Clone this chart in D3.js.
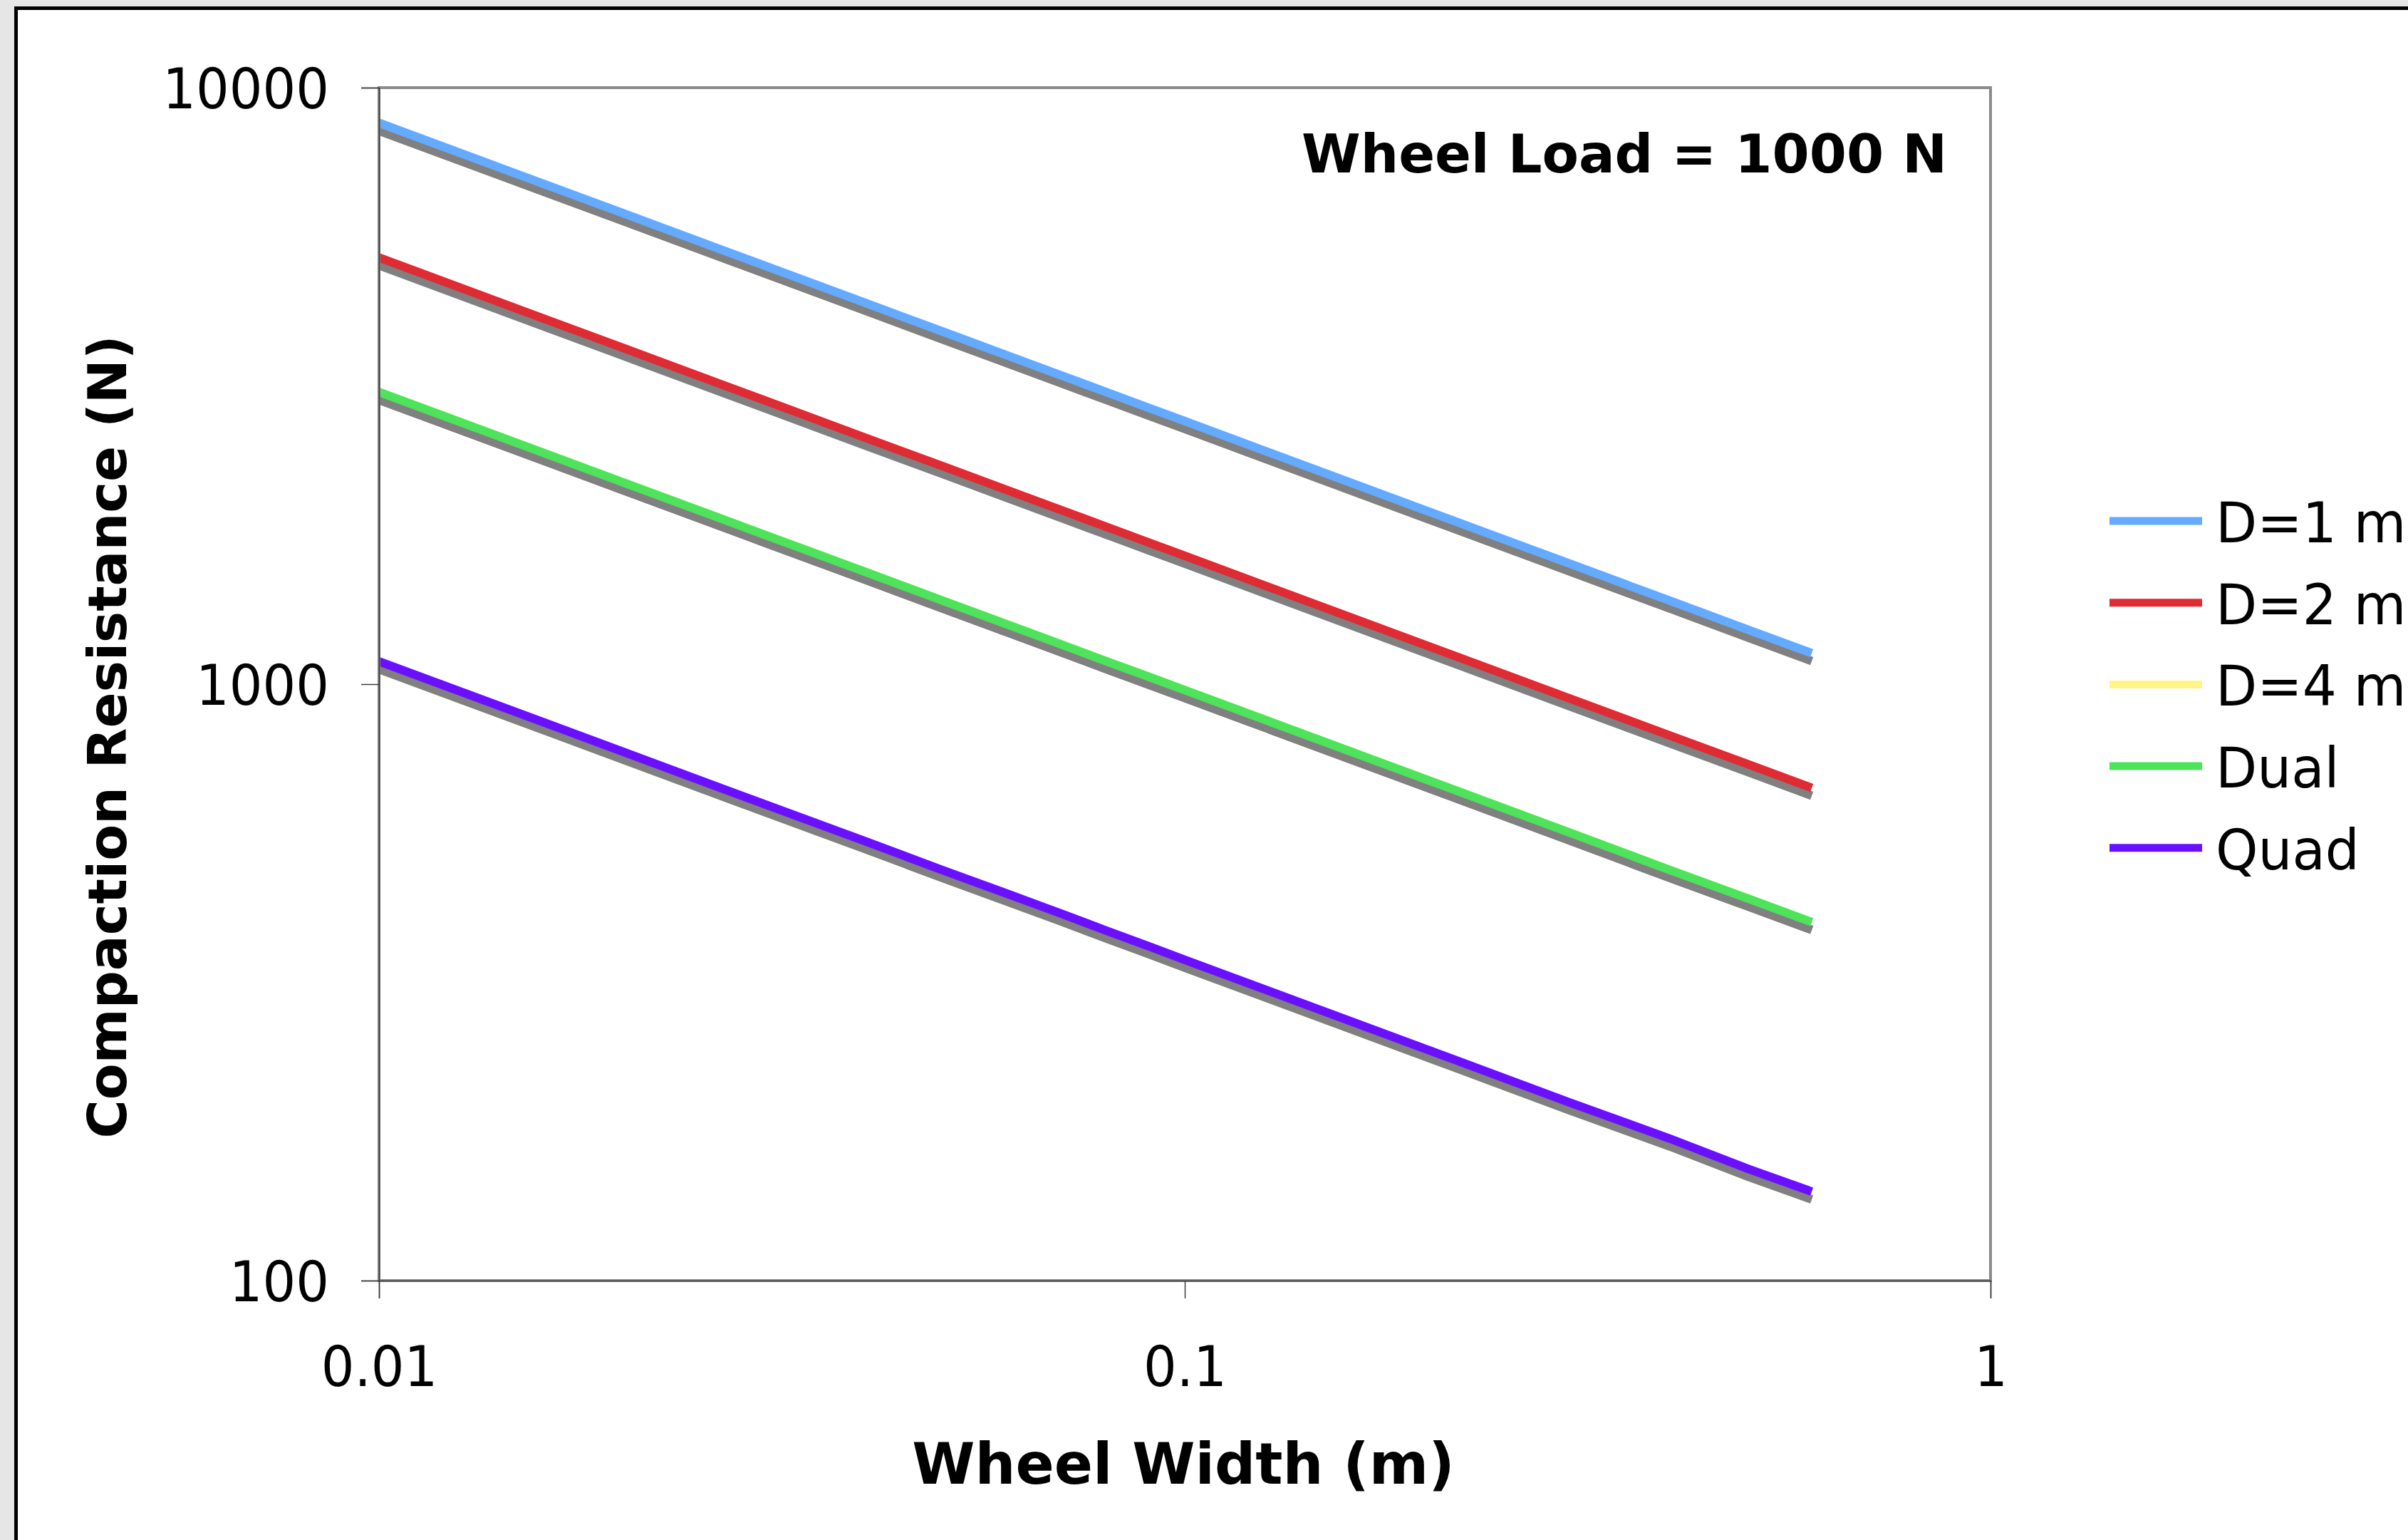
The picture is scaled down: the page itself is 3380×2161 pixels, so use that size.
<!DOCTYPE html>
<html>
<head>
<meta charset="utf-8">
<script src="https://cdn.jsdelivr.net/npm/d3@7"></script>
<style>
  html, body { margin: 0; padding: 0; background: #e6e6e6; }
  svg { display: block; }
</style>
</head>
<body>
<svg id="chart" width="3380" height="2161"></svg>
<script>
// Wheel widths (m) at which compaction resistance was computed
const widths = [0.01, 0.02, 0.03, 0.04, 0.05, 0.06, 0.07, 0.08, 0.09, 0.1, 0.2, 0.3, 0.4, 0.5, 0.6];

// Compaction resistance (N) for each wheel configuration
const resD1   = [8727, 6171, 5039, 4364, 3903, 3563, 3299, 3086, 2909, 2760, 1951, 1593, 1380, 1234, 1127];
const resD2   = [5189, 3669, 2996, 2594, 2321, 2118, 1961, 1835, 1730, 1641, 1160, 947, 820, 734, 670];
const resD4   = [3089, 2184, 1783, 1545, 1381, 1261, 1168, 1092, 1030, 977, 691, 564, 488, 437, 399];
const resDual = [3089, 2184, 1783, 1545, 1381, 1261, 1168, 1092, 1030, 977, 691, 564, 488, 437, 399];
const resQuad = [1092, 772, 630, 546, 488, 446, 413, 386, 364, 345, 244, 199, 173, 154, 141];

const seriesNames  = ["D=1 m", "D=2 m", "D=4 m", "Dual", "Quad"];
const seriesValues = [resD1, resD2, resD4, resDual, resQuad];
const seriesColors = ["#64aaff", "#df2b34", "#fff38a", "#4de35a", "#6a10ff"];

const xTickValues = [0.01, 0.1, 1];
const xTickLabels = ["0.01", "0.1", "1"];
const yTickValues = [100, 1000, 10000];
const yTickLabels = ["100", "1000", "10000"];

const annotation = "Wheel Load = 1000 N";
const xTitle = "Wheel Width (m)";
const yTitle = "Compaction Resistance (N)";

// ---- layout ----
const W = 3380, H = 2161;
const plot = { left: 532, right: 2794, top: 123, bottom: 1797 };
const FONT = "'DejaVu Sans', Verdana, sans-serif";

const svg = d3.select("#chart");

svg.append("rect").attr("width", W).attr("height", H).attr("fill", "#e6e6e6");
// chart frame
svg.append("rect")
  .attr("x", 22.5).attr("y", 11.5)
  .attr("width", W + 40).attr("height", H + 40)
  .attr("fill", "#ffffff").attr("stroke", "#000000").attr("stroke-width", 5);

const x = d3.scaleLog().domain([0.01, 1]).range([plot.left, plot.right]);
const y = d3.scaleLog().domain([100, 10000]).range([plot.bottom, plot.top]);

// plot area background
svg.append("rect")
  .attr("x", plot.left).attr("y", plot.top)
  .attr("width", plot.right - plot.left).attr("height", plot.bottom - plot.top)
  .attr("fill", "#ffffff");

svg.append("defs").append("clipPath").attr("id", "plotClip")
  .append("rect")
  .attr("x", plot.left).attr("y", plot.top)
  .attr("width", plot.right - plot.left).attr("height", plot.bottom - plot.top);

const line = d3.line().x(d => x(d[0])).y(d => y(d[1]));
const lines = svg.append("g").attr("clip-path", "url(#plotClip)");

seriesValues.forEach((vals, i) => {
  const pts = widths.map((w, j) => [w, vals[j]]);
  // drop shadow under each series
  lines.append("path")
    .attr("d", line(pts))
    .attr("transform", "translate(0,11)")
    .attr("fill", "none").attr("stroke", "#808080").attr("stroke-width", 12);
  lines.append("path")
    .attr("d", line(pts))
    .attr("fill", "none").attr("stroke", seriesColors[i]).attr("stroke-width", 12);
});

// plot area border
svg.append("rect")
  .attr("x", plot.left).attr("y", plot.top)
  .attr("width", plot.right - plot.left).attr("height", plot.bottom - plot.top)
  .attr("fill", "none").attr("stroke", "#8a8a8a").attr("stroke-width", 4);

// axes
const yAxis = d3.axisLeft(y)
  .tickValues(yTickValues)
  .tickFormat((d, i) => yTickLabels[i])
  .tickSize(25).tickPadding(45);
const gy = svg.append("g").attr("transform", `translate(${plot.left},0)`).call(yAxis);

const xAxis = d3.axisBottom(x)
  .tickValues(xTickValues)
  .tickFormat((d, i) => xTickLabels[i])
  .tickSize(25).tickPadding(40);
const gx = svg.append("g").attr("transform", `translate(0,${plot.bottom})`).call(xAxis);

[gx, gy].forEach(g => {
  g.select(".domain").attr("stroke", "#3a3a3a").attr("stroke-width", 1.5);
  g.selectAll(".tick line").attr("stroke", "#3a3a3a").attr("stroke-width", 1.5);
  g.selectAll(".tick text")
    .attr("font-family", FONT).attr("font-size", 79).attr("fill", "#000");
});

// tick labels are slightly narrow
gy.selectAll(".tick text").each(function () {
  const t = d3.select(this);
  const tx = +t.attr("x");
  t.attr("x", 0).attr("dy", "0.36em")
    .attr("transform", `translate(${tx},0) scale(0.93,1)`);
});
gx.selectAll(".tick text").each(function () {
  const t = d3.select(this);
  t.attr("y", 0).attr("dy", 0)
    .attr("transform", `translate(0,148) scale(0.93,1)`);
});

// annotation inside the plot
svg.append("text")
  .attr("x", 2733).attr("y", 242)
  .attr("text-anchor", "end")
  .attr("font-family", FONT).attr("font-weight", "bold").attr("font-size", 75)
  .text(annotation);

// axis titles
svg.append("text")
  .attr("x", (plot.left + plot.right) / 2 - 2).attr("y", 2082)
  .attr("text-anchor", "middle")
  .attr("font-family", FONT).attr("font-weight", "bold").attr("font-size", 80)
  .text(xTitle);

svg.append("text")
  .attr("transform", "translate(177,1034) rotate(-90)")
  .attr("text-anchor", "middle")
  .attr("font-family", FONT).attr("font-weight", "bold").attr("font-size", 74)
  .text(yTitle);

// legend
const legend = svg.append("g");
const legendY0 = 731, legendStep = 114.7;
seriesNames.forEach((name, i) => {
  const ly = legendY0 + i * legendStep;
  legend.append("line")
    .attr("x1", 2961).attr("x2", 3091).attr("y1", ly).attr("y2", ly)
    .attr("stroke", seriesColors[i]).attr("stroke-width", 11);
  legend.append("text")
    .attr("transform", `translate(3110,${ly + 30}) scale(0.97,1)`)
    .attr("font-family", FONT).attr("font-size", 78)
    .text(name);
});
</script>
</body>
</html>
